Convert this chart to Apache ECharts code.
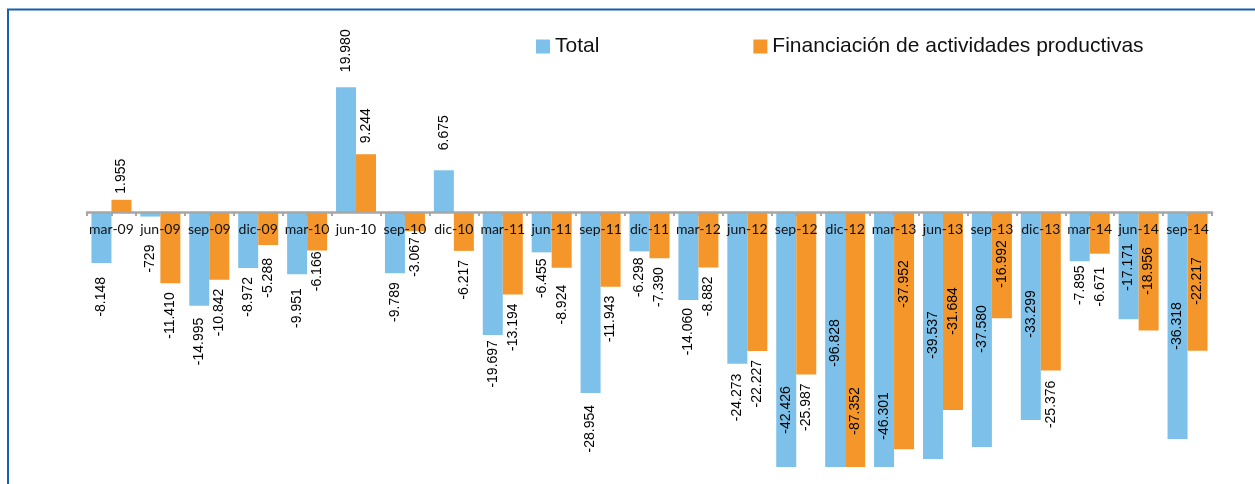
<!DOCTYPE html>
<html>
<head>
<meta charset="utf-8">
<script src="https://cdn.jsdelivr.net/npm/echarts@6/dist/echarts.min.js"></script>
<style>
  html, body { margin: 0; padding: 0; background: #fff; }
  #chart { width: 1255px; height: 484px; }
</style>
</head>
<body>
<div id="chart"></div>
<script>
  // trimestres
  var categories = ['mar-09', 'jun-09', 'sep-09', 'dic-09', 'mar-10', 'jun-10', 'sep-10', 'dic-10',
    'mar-11', 'jun-11', 'sep-11', 'dic-11', 'mar-12', 'jun-12', 'sep-12', 'dic-12',
    'mar-13', 'jun-13', 'sep-13', 'dic-13', 'mar-14', 'jun-14', 'sep-14'];
  var total = [-8148, -729, -14995, -8972, -9951, 19980, -9789, 6675,
    -19697, -6455, -28954, -6298, -14060, -24273, -42426, -96828,
    -46301, -39537, -37580, -33299, -7895, -17171, -36318];
  var financiacion = [1955, -11410, -10842, -5288, -6166, 9244, -3067, -6217,
    -13194, -8924, -11943, -7390, -8882, -22227, -25987, -87352,
    -37952, -31684, -16992, -25376, -6671, -18956, -22217];
  var seriesNames = ['Total', 'Financiación de actividades productivas'];

  // colocacion de etiquetas: d = distancia al final de la barra, c = centro dentro de la barra
  var placeTotal = {0: {d: 14}, 1: {d: 28}, 2: {d: 12}, 4: {d: 14}, 5: {d: 15}, 7: {d: 20}, 8: {d: 5},
    9: {d: 6}, 10: {d: 12}, 11: {d: 6}, 12: {d: 8}, 13: {d: 10}, 14: {c: 198}, 15: {c: 131},
    16: {c: 204}, 17: {c: 123}, 18: {c: 117}, 19: {c: 102}, 20: {d: 4}, 21: {c: 55}, 22: {c: 114}};
  var placeFin = {0: {d: 6}, 3: {d: 13}, 4: {d: 1}, 5: {d: 11}, 6: {d: 6}, 9: {d: 17},
    15: {c: 199}, 16: {c: 72}, 17: {c: 99}, 18: {c: 52}, 19: {d: 10}, 20: {d: 13}, 21: {c: 59}, 22: {c: 69}};

  function fmt(v) {
    var s = Math.abs(v).toString().replace(/\B(?=(\d{3})+(?!\d))/g, '.');
    return (v < 0 ? '-' : '') + s;
  }

  function items(values, place) {
    return values.map(function (v, i) {
      var p = place[i] || {};
      if (p.c != null) {
        return {value: v, label: {position: ['50%', p.c], align: 'center', verticalAlign: 'middle'}};
      }
      return {value: v, label: {position: 'outside', distance: p.d != null ? p.d : 9,
        align: v < 0 ? 'right' : 'left', verticalAlign: 'middle'}};
    });
  }

  var labelStyle = {
    show: true,
    rotate: 90,
    fontFamily: 'Liberation Sans',
    fontSize: 14,
    color: '#000',
    formatter: function (p) { return fmt(p.value); }
  };

  var axisGray = '#A6A6A6';

  var myChart = echarts.init(document.getElementById('chart'));
  myChart.setOption({
    animation: false,
    backgroundColor: '#fff',
    graphic: [{
      type: 'rect',
      shape: {x: 8, y: 9.5, width: 1400, height: 700},
      style: {fill: 'none', stroke: '#1560B0', lineWidth: 2},
      silent: true
    }],
    legend: {
      left: 531,
      top: 31,
      itemWidth: 14,
      itemHeight: 14,
      itemGap: 154,
      icon: 'rect',
      textStyle: {fontFamily: 'Liberation Sans', fontSize: 21, color: '#111'},
      data: seriesNames
    },
    grid: [
      // barras
      {left: 87, right: 43, top: 62, bottom: 17, outerBoundsMode: 'none'},
      // eje de categorias en el cero (212px)
      {left: 87, right: 43, top: 62, bottom: 272, outerBoundsMode: 'none'}
    ],
    xAxis: [
      {
        type: 'category',
        gridIndex: 0,
        data: categories,
        show: false
      },
      {
        type: 'category',
        gridIndex: 1,
        data: categories,
        position: 'bottom',
        z: 10,
        axisLine: {onZero: false, lineStyle: {color: axisGray, width: 2.5}},
        axisTick: {show: true, length: 4, lineStyle: {color: axisGray, width: 2}},
        axisLabel: {margin: 10, fontFamily: 'Lato', fontSize: 14, color: '#111', interval: 0}
      },
      {
        type: 'category',
        gridIndex: 1,
        data: categories,
        position: 'bottom',
        z: 10,
        axisLine: {show: false, onZero: false},
        axisTick: {show: true, alignWithLabel: true, length: 4, lineStyle: {color: axisGray, width: 2}},
        axisLabel: {show: false}
      }
    ],
    yAxis: [
      {type: 'value', gridIndex: 0, min: -40800, max: 24000, show: false, splitLine: {show: false}},
      {type: 'value', gridIndex: 1, min: 0, max: 1, show: false, splitLine: {show: false}}
    ],
    series: [
      {
        name: seriesNames[0],
        type: 'bar',
        xAxisIndex: 0,
        yAxisIndex: 0,
        barWidth: 20,
        barGap: '0%',
        clip: true,
        itemStyle: {color: '#7DC1EA'},
        label: labelStyle,
        data: items(total, placeTotal)
      },
      {
        name: seriesNames[1],
        type: 'bar',
        xAxisIndex: 0,
        yAxisIndex: 0,
        barWidth: 20,
        barGap: '0%',
        clip: true,
        itemStyle: {color: '#F5962B'},
        label: labelStyle,
        data: items(financiacion, placeFin)
      }
    ]
  });
</script>
</body>
</html>
